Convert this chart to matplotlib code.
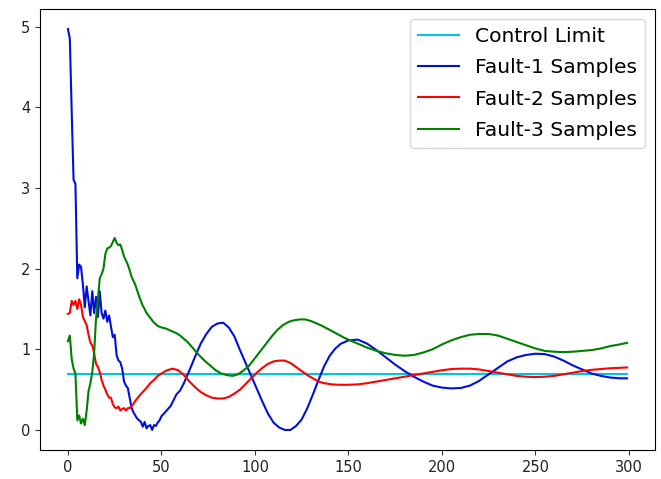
import matplotlib
matplotlib.use('Agg')
import matplotlib.pyplot as plt

sample_count = 300
control_limit = 0.69

fault1_x = list(range(0, 50)) + [50, 52, 55, 58, 60, 62, 65, 68, 71, 74, 77, 80, 83, 86, 89, 92, 95, 98,
                                 101, 104, 107, 110, 113, 116, 119, 122, 125, 128, 131, 134, 137, 140, 143,
                                 146, 150, 155, 160, 165, 170, 175, 180, 185, 190, 195, 200, 205, 210, 215,
                                 220, 225, 230, 235, 240, 245, 250, 255, 260, 265, 270, 275, 280, 285, 290,
                                 295, 299]
fault1_y = [4.97, 4.85, 3.95, 3.1, 3.05, 1.88, 2.05, 2.02, 1.8, 1.52,
            1.78, 1.6, 1.42, 1.72, 1.45, 1.65, 1.4, 1.72, 1.45, 1.38,
            1.48, 1.34, 1.42, 1.28, 1.15, 1.18, 0.93, 0.86, 0.84, 0.76,
            0.6, 0.55, 0.52, 0.4, 0.28, 0.22, 0.18, 0.14, 0.12, 0.1,
            0.04, 0.1, 0.02, 0.05, 0.06, 0.0, 0.06, 0.05, 0.09, 0.12,
            0.17, 0.22, 0.3, 0.44, 0.49, 0.58, 0.74, 0.91, 1.07, 1.19, 1.28, 1.32, 1.33, 1.27,
            1.16, 0.99, 0.83, 0.67, 0.51, 0.35, 0.2, 0.09, 0.03, 0.0, 0.0, 0.05, 0.13, 0.27,
            0.44, 0.62, 0.79, 0.92, 1.01, 1.07, 1.11, 1.12, 1.07, 0.99, 0.9, 0.81, 0.73, 0.66,
            0.6, 0.55, 0.525, 0.515, 0.52, 0.55, 0.61, 0.69, 0.77, 0.85, 0.9, 0.93, 0.945, 0.94,
            0.91, 0.86, 0.8, 0.75, 0.7, 0.67, 0.65, 0.64, 0.64]

fault2_x = list(range(0, 38)) + [38, 40, 42, 44, 46, 48, 50, 53, 56, 59, 62, 65, 68, 71, 74, 77, 80, 83,
                                 86, 89, 92, 95, 98, 101, 104, 107, 110, 113, 116, 119, 122, 125, 128,
                                 131, 134, 137, 141, 145, 150, 155, 160, 165, 170, 175, 180, 185, 190,
                                 195, 200, 205, 210, 215, 220, 225, 230, 235, 240, 245, 250, 255, 260,
                                 265, 270, 275, 280, 285, 290, 295, 299]
fault2_y = [1.44, 1.45, 1.6, 1.55, 1.6, 1.5, 1.62, 1.55, 1.4, 1.35,
            1.3, 1.18, 1.08, 1.05, 0.95, 0.82, 0.78, 0.72, 0.62, 0.55,
            0.5, 0.44, 0.4, 0.4, 0.32, 0.28, 0.27, 0.29, 0.24, 0.26,
            0.27, 0.24, 0.27, 0.27, 0.3, 0.32, 0.36, 0.39,
            0.42, 0.47, 0.52, 0.58, 0.62, 0.67, 0.7, 0.74, 0.76, 0.74, 0.68, 0.6, 0.53, 0.47,
            0.43, 0.4, 0.39, 0.39, 0.41, 0.45, 0.5, 0.57, 0.64, 0.71, 0.77, 0.82, 0.85, 0.86,
            0.86, 0.83, 0.78, 0.73, 0.68, 0.64, 0.6, 0.58, 0.565, 0.56, 0.56, 0.565, 0.58,
            0.6, 0.62, 0.64, 0.66, 0.68, 0.7, 0.72, 0.74, 0.755, 0.76, 0.76, 0.75, 0.73, 0.71,
            0.69, 0.67, 0.66, 0.655, 0.66, 0.67, 0.69, 0.71, 0.73, 0.745, 0.755, 0.765, 0.77,
            0.775]

fault3_x = list(range(0, 49)) + [50, 52, 54, 56, 58, 60, 62, 64, 67, 70, 73, 76, 79, 82, 85, 88, 91, 94,
                                 97, 100, 103, 106, 109, 112, 115, 118, 121, 124, 127, 130, 133, 136,
                                 140, 144, 148, 152, 156, 160, 165, 170, 175, 180, 185, 190, 195, 200,
                                 205, 210, 215, 220, 225, 230, 235, 240, 245, 250, 255, 260, 265, 270,
                                 275, 280, 285, 290, 295, 299]
fault3_y = [1.1, 1.17, 0.88, 0.76, 0.7, 0.12, 0.18, 0.08, 0.14, 0.06,
            0.24, 0.48, 0.58, 0.72, 0.95, 1.38, 1.62, 1.88, 1.93, 2.0,
            2.18, 2.25, 2.26, 2.28, 2.33, 2.38, 2.32, 2.29, 2.3, 2.23,
            2.15, 2.1, 2.05, 1.98, 1.9, 1.85, 1.8, 1.73, 1.66, 1.6,
            1.54, 1.5, 1.45, 1.42, 1.39, 1.36, 1.33, 1.31, 1.29,
            1.27, 1.26, 1.24, 1.22, 1.2, 1.17, 1.13, 1.09, 1.01, 0.93, 0.86, 0.8, 0.74, 0.7,
            0.68, 0.67, 0.69, 0.74, 0.8, 0.89, 0.98, 1.07, 1.16, 1.24, 1.3, 1.34, 1.36, 1.37,
            1.37, 1.35, 1.32, 1.29, 1.24, 1.19, 1.14, 1.1, 1.06, 1.02, 0.98, 0.95, 0.93, 0.92,
            0.93, 0.96, 1.0, 1.06, 1.11, 1.15, 1.18, 1.19, 1.19, 1.17, 1.13, 1.09, 1.05, 1.01,
            0.98, 0.97, 0.965, 0.97, 0.98, 0.99, 1.01, 1.04, 1.06, 1.08]

fig = plt.figure(figsize=(6.61, 4.79), dpi=100)
ax = fig.add_axes([40 / 661, 29 / 479, 615 / 661, 441 / 479])

ax.plot(range(sample_count), [control_limit] * sample_count, color='#00c4e4', label='Control Limit')
ax.plot(fault1_x, fault1_y, color='#0010d8', label='Fault-1 Samples')
ax.plot(fault2_x, fault2_y, color='red', label='Fault-2 Samples')
ax.plot(fault3_x, fault3_y, color='green', label='Fault-3 Samples')

ax.tick_params(labelsize=10.5, colors='#333333', labelcolor='#222222')
ax.legend(loc='upper right', fontsize=14.6, labelspacing=0.6)

fig.savefig('out.png', dpi=100)
